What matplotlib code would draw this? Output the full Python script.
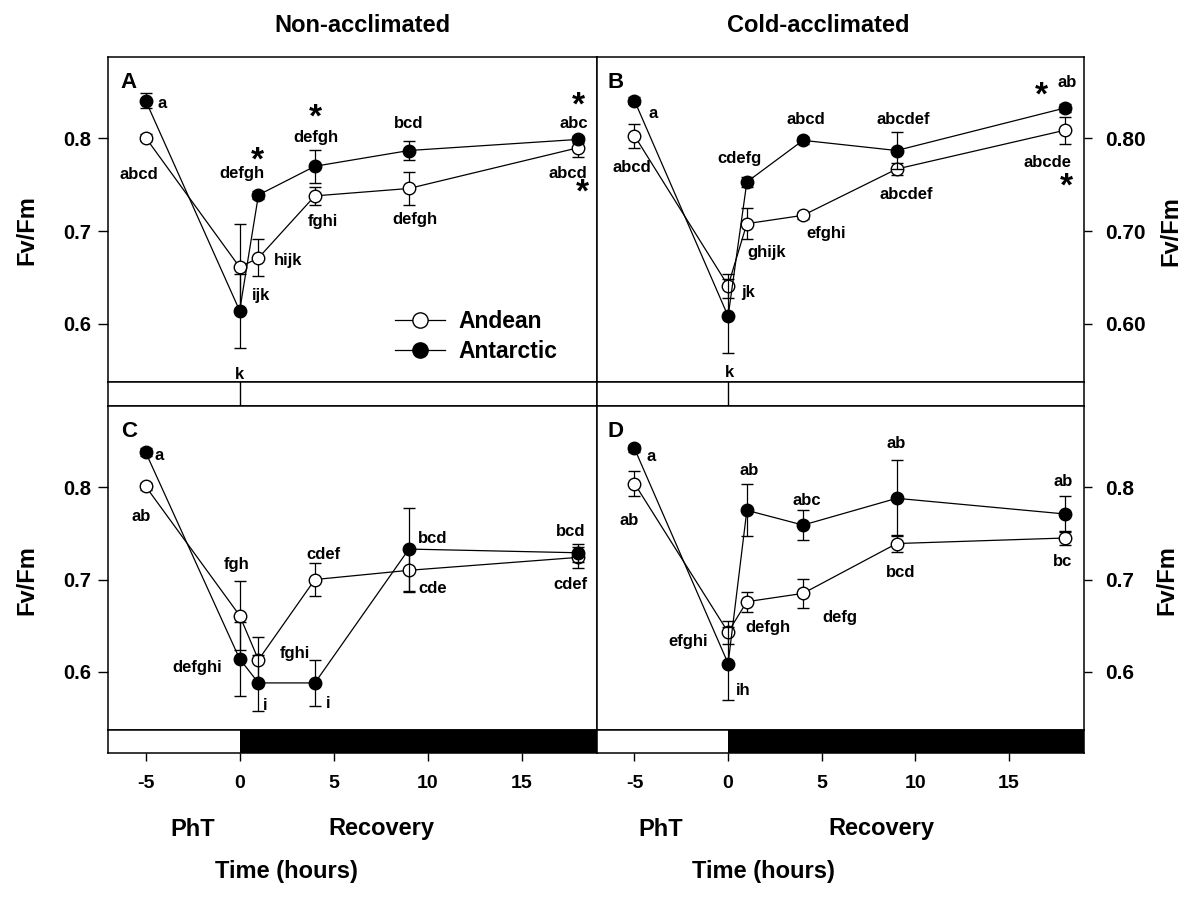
import matplotlib
matplotlib.use("Agg")
import matplotlib.pyplot as plt
from matplotlib.lines import Line2D

plt.rcParams['font.family'] = ['Liberation Sans', 'DejaVu Sans']
plt.rcParams['font.weight'] = 'bold'

# ---------------- data ----------------
time_h = [-5, 0, 1, 4, 9, 18]

A_andean = [0.801, 0.661, 0.671, 0.738, 0.746, 0.790]
A_andean_err = [0.004, 0.047, 0.020, 0.010, 0.018, 0.010]
A_antarctic = [0.841, 0.614, 0.739, 0.770, 0.787, 0.799]
A_antarctic_err = [0.008, 0.040, 0.004, 0.018, 0.010, 0.004]

B_andean = [0.803, 0.641, 0.708, 0.717, 0.767, 0.809]
B_andean_err = [0.013, 0.013, 0.017, 0.004, 0.006, 0.0145]
B_antarctic = [0.841, 0.608, 0.753, 0.798, 0.787, 0.833]
B_antarctic_err = [0.004, 0.040, 0.005, 0.004, 0.020, 0.004]

C_andean = [0.801, 0.661, 0.613, 0.700, 0.710, 0.724]
C_andean_err = [0.004, 0.037, 0.0245, 0.018, 0.023, 0.0115]
C_antarctic = [0.838, 0.614, 0.588, 0.588, 0.733, 0.729]
C_antarctic_err = [0.004, 0.040, 0.030, 0.0245, 0.045, 0.010]

D_andean = [0.804, 0.643, 0.676, 0.685, 0.739, 0.745]
D_andean_err = [0.0137, 0.0126, 0.011, 0.016, 0.009, 0.008]
D_antarctic = [0.842, 0.609, 0.775, 0.759, 0.788, 0.771]
D_antarctic_err = [0.004, 0.040, 0.028, 0.016, 0.041, 0.019]

series_names = ["Andean", "Antarctic"]
panel_letters = ["A", "B", "C", "D"]
column_titles = ["Non-acclimated", "Cold-acclimated"]
y_ticks = [0.6, 0.7, 0.8]
x_ticks = [-5, 0, 5, 10, 15]
phase_names = ["PhT", "Recovery"]
phase_edges = [-7, 0, 19]   # light phase, dark recovery

# significance letters (text, time, Fv/Fm)
A_labels = [("a", -4.11, 0.8376), ("abcd", -5.36, 0.761), ("defgh", 0.14, 0.7624),
            ("ijk", 1.12, 0.630), ("hijk", 2.57, 0.6686), ("k", 0.0, 0.545),
            ("defgh", 4.04, 0.8007), ("fghi", 4.40, 0.7104), ("bcd", 9.0, 0.8166),
            ("defgh", 9.32, 0.713), ("abc", 17.78, 0.8166), ("abcd", 17.43, 0.7624)]
A_stars = [(0.94, 0.7816), (4.04, 0.8285), (18.0, 0.841), (18.23, 0.748)]

B_labels = [("a", -4.02, 0.8274), ("abcd", -5.12, 0.7682), ("cdefg", 0.615, 0.778),
            ("jk", 1.06, 0.6335), ("ghijk", 2.08, 0.6768), ("k", 0.08, 0.5468),
            ("abcd", 4.14, 0.8203), ("efghi", 5.25, 0.6974), ("abcdef", 9.35, 0.8203),
            ("abcdef", 9.49, 0.7393), ("ab", 18.09, 0.860), ("abcde", 17.05, 0.7743)]
B_stars = [(16.75, 0.8528), (18.05, 0.7545)]

C_labels = [("a", -4.29, 0.834), ("ab", -5.21, 0.7678), ("fgh", -0.16, 0.7166),
            ("defghi", -2.25, 0.6047), ("cdef", 4.45, 0.7267), ("fghi", 2.93, 0.620),
            ("i", 1.38, 0.5638), ("i", 4.72, 0.566), ("bcd", 10.25, 0.7444),
            ("cde", 10.25, 0.6906), ("bcd", 17.61, 0.7516), ("cdef", 17.61, 0.6942)]
C_stars = []

D_labels = [("a", -4.11, 0.8333), ("ab", -5.3, 0.7635), ("efghi", -2.15, 0.6328),
            ("ih", 0.83, 0.580), ("ab", 1.15, 0.8184), ("defgh", 2.13, 0.648),
            ("abc", 4.21, 0.7859), ("defg", 5.96, 0.6588), ("ab", 8.96, 0.8477),
            ("bcd", 9.21, 0.7076), ("ab", 17.87, 0.8062), ("bc", 17.87, 0.7195)]
D_stars = []

panels = [
    (A_andean, A_andean_err, A_antarctic, A_antarctic_err, A_labels, A_stars),
    (B_andean, B_andean_err, B_antarctic, B_antarctic_err, B_labels, B_stars),
    (C_andean, C_andean_err, C_antarctic, C_antarctic_err, C_labels, C_stars),
    (D_andean, D_andean_err, D_antarctic, D_antarctic_err, D_labels, D_stars),
]

# ---------------- layout ----------------
fig = plt.figure(figsize=(12, 9.02), dpi=100)

col_x = [108 / 1200, 597 / 1200]
col_w = [489 / 1200, 487 / 1200]
row_main = [(1 - 382 / 902, 325 / 902), (1 - 730 / 902, 324 / 902)]
row_strip = [(1 - 406 / 902, 24 / 902), (1 - 753 / 902, 23 / 902)]

XLIM = (-7, 19)
YLIM = (0.537, 0.888)
LW = 1.1

for i, (an, an_e, at, at_e, labels, stars) in enumerate(panels):
    r, c = divmod(i, 2)
    ax = fig.add_axes([col_x[c], row_main[r][0], col_w[c], row_main[r][1]])
    sx = fig.add_axes([col_x[c], row_strip[r][0], col_w[c], row_strip[r][1]])

    ax.errorbar(time_h, an, yerr=an_e, color='black', lw=0.9, marker='o',
                markersize=9, markerfacecolor='white', markeredgecolor='black',
                markeredgewidth=1.0, ecolor='black', elinewidth=0.9, capsize=4,
                capthick=0.9, zorder=3)
    ax.errorbar(time_h, at, yerr=at_e, color='black', lw=0.9, marker='o',
                markersize=9, markerfacecolor='black', markeredgecolor='black',
                markeredgewidth=1.0, ecolor='black', elinewidth=0.9, capsize=4,
                capthick=0.9, zorder=4)

    ax.set_xlim(*XLIM)
    ax.set_ylim(*YLIM)
    ax.set_xticks([])
    ax.set_yticks(y_ticks)
    for s in ax.spines.values():
        s.set_linewidth(LW)

    if c == 0:
        ax.yaxis.tick_left()
        ax.set_yticklabels([f"{v:.1f}" for v in y_ticks])
        ax.tick_params(axis='y', direction='out', length=7, width=1, pad=5,
                       labelsize=14.5)
    else:
        ax.yaxis.tick_right()
        fmt = "{:.2f}" if r == 0 else "{:.1f}"
        ax.set_yticklabels([fmt.format(v) for v in y_ticks])
        ax.tick_params(axis='y', direction='out', length=6, width=1, pad=9,
                       labelsize=15)
    for t in ax.get_yticklabels():
        t.set_fontweight('bold')

    ax.text(0.022 if c else 0.026, 0.922, panel_letters[i], transform=ax.transAxes,
            ha='left', va='center', fontsize=16, fontweight='bold')

    for txt, x, y in labels:
        ax.text(x, y, txt, ha='center', va='center', fontsize=12, fontweight='bold',
                zorder=5)
    for x, y in stars:
        ax.text(x, y - 0.0065, "*", ha='center', va='center', fontsize=24,
                fontweight='bold', zorder=5)

    if i == 0:
        handles = [
            Line2D([], [], color='black', lw=0.9, marker='o', markersize=11,
                   markerfacecolor='white', markeredgecolor='black'),
            Line2D([], [], color='black', lw=0.9, marker='o', markersize=11,
                   markerfacecolor='black', markeredgecolor='black'),
        ]
        ax.legend(handles, series_names, loc='center left',
                  bbox_to_anchor=((395 - 108) / 489, (382 - 336.7) / 325),
                  frameon=False, handlelength=2.2,
                  handletextpad=0.55, labelspacing=0.32, borderpad=0,
                  borderaxespad=0, prop={'weight': 'bold', 'size': 16.5})

    # light / dark strip
    sx.set_xlim(*XLIM)
    sx.set_ylim(0, 1)
    sx.set_yticks([])
    for s in sx.spines.values():
        s.set_linewidth(LW)
    if r == 0:
        sx.axvline(phase_edges[1], color='black', lw=1.0)
        sx.set_xticks([])
    else:
        sx.axvspan(phase_edges[1], phase_edges[2], color='black', lw=0)
        sx.set_xticks(x_ticks)
        sx.set_xticklabels([str(v) for v in x_ticks])
        sx.tick_params(axis='x', direction='out', length=6, width=1, pad=10,
                       labelsize=14)
        for t in sx.get_xticklabels():
            t.set_fontweight('bold')

# column titles and axis texts
fig.text(362.5 / 1200, 1 - 25 / 902, column_titles[0], ha='center', va='center',
         fontsize=17, fontweight='bold')
fig.text(818.5 / 1200, 1 - 25 / 902, column_titles[1], ha='center', va='center',
         fontsize=17, fontweight='bold')

for yc in (230, 580):
    fig.text(27 / 1200, 1 - yc / 902, "Fv/Fm", rotation=90, ha='center',
             va='center', fontsize=17, fontweight='bold')
fig.text(1171 / 1200, 1 - 231 / 902, "Fv/Fm", rotation=90, ha='center',
         va='center', fontsize=17, fontweight='bold')
fig.text(1167 / 1200, 1 - 580 / 902, "Fv/Fm", rotation=90, ha='center',
         va='center', fontsize=17, fontweight='bold')

for px_pht, px_rec, px_time in ((193, 381.7, 286), (661, 881, 763)):
    fig.text(px_pht / 1200, 1 - 830 / 902, phase_names[0], ha='center',
             va='center', fontsize=17, fontweight='bold')
    fig.text(px_rec / 1200, 1 - 828 / 902, phase_names[1], ha='center',
             va='center', fontsize=17, fontweight='bold')
    fig.text(px_time / 1200, 1 - 871.7 / 902, "Time (hours)", ha='center',
             va='center', fontsize=17, fontweight='bold')

fig.savefig("out.png", dpi=100)
